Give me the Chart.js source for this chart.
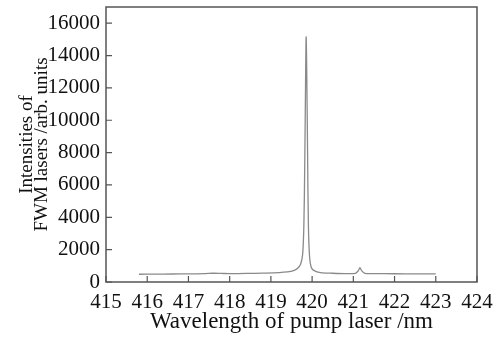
<!DOCTYPE html>
<html><head><meta charset="utf-8">
<script src="https://cdn.jsdelivr.net/npm/chart.js@4/dist/chart.umd.min.js"></script>
<style>html,body{margin:0;padding:0;background:#fff}#w{width:497px;height:340px}</style>
</head><body><div id="w"><canvas id="c"></canvas></div>
<script>
const wavelength = [415.8,416.2,416.6,417.0,417.4,417.6,417.8,418.0,418.4,418.8,419.2,419.4,419.55,419.65,419.72,419.77,419.8,419.82,419.84,419.855,419.87,419.89,419.91,419.94,419.98,420.05,420.2,420.5,420.8,421.05,421.12,421.16,421.2,421.28,421.5,422.0,422.5,423.0];
const intensity = [480,490,495,500,520,540,530,520,530,550,580,620,700,850,1100,1700,3500,7000,12000,15150,13000,8000,3500,1500,900,700,580,540,520,540,700,880,700,540,520,510,500,500];
const xTicks = [415,416,417,418,419,420,421,422,423,424];
const yTicks = [0,2000,4000,6000,8000,10000,12000,14000,16000];
const xTitle = 'Wavelength of pump laser /nm';
const yTitle = ['Intensities of','FWM lasers /arb. units'];

const FONT = '"Liberation Serif", "DejaVu Serif", serif';
const boxPlugin = {
  id:'box',
  afterDatasetsDraw(chart){
    const {ctx, chartArea:a, scales} = chart;
    ctx.save();
    ctx.strokeStyle = '#555';
    ctx.lineWidth = 1.5;
    ctx.strokeRect(a.left, a.top, a.right-a.left, a.bottom-a.top);
    ctx.lineWidth = 1.2;
    ctx.beginPath();
    xTicks.forEach(v=>{ const px = scales.x.getPixelForValue(v); ctx.moveTo(px,a.bottom); ctx.lineTo(px,a.bottom-6); });
    yTicks.forEach(v=>{ const py = scales.y.getPixelForValue(v); ctx.moveTo(a.left,py); ctx.lineTo(a.left+6,py); });
    ctx.stroke();
    ctx.restore();
  }
};
new Chart(document.getElementById('c'), {
  type:'line',
  data:{ datasets:[{ data: wavelength.map((x,i)=>({x, y:intensity[i]})), borderColor:'#8a8a8a', borderWidth:1.3, pointRadius:0, tension:0.3, fill:false }]},
  options:{
    responsive:true, maintainAspectRatio:false, animation:false,
    layout:{ padding:{ left:0, right:20, top:7, bottom:0 } },
    plugins:{ legend:{display:false}, tooltip:{enabled:false} },
    scales:{
      x:{ type:'linear', min:415, max:424,
        afterBuildTicks(s){ s.ticks = xTicks.map(v=>({value:v})); },
        afterFit(s){ s.height = 58; s.paddingLeft = 0; s.paddingRight = 0; },
        grid:{ display:false, drawTicks:false, tickLength:0 }, border:{ display:false },
        ticks:{ color:'#111', font:{ family:FONT, size:21 }, padding:8, maxRotation:0, autoSkip:false, callback:v=>String(v) },
        title:{ display:true, text:xTitle, color:'#111', font:{ family:FONT, size:23 }, padding:{top:0,bottom:4} }
      },
      y:{ type:'linear', min:0, max:17000,
        afterBuildTicks(s){ s.ticks = yTicks.map(v=>({value:v})); },
        afterFit(s){ s.width = 106; s.paddingTop = 0; s.paddingBottom = 0; },
        grid:{ display:false, drawTicks:false, tickLength:0 }, border:{ display:false },
        ticks:{ color:'#111', font:{ family:FONT, size:21 }, padding:6, autoSkip:false, callback:v=>String(v) },
        title:{ display:true, text:yTitle, color:'#111', font:{ family:FONT, size:19, lineHeight:0.8 }, padding:{top:19,bottom:0} }
      }
    }
  },
  plugins:[boxPlugin]
});
</script></body></html>
